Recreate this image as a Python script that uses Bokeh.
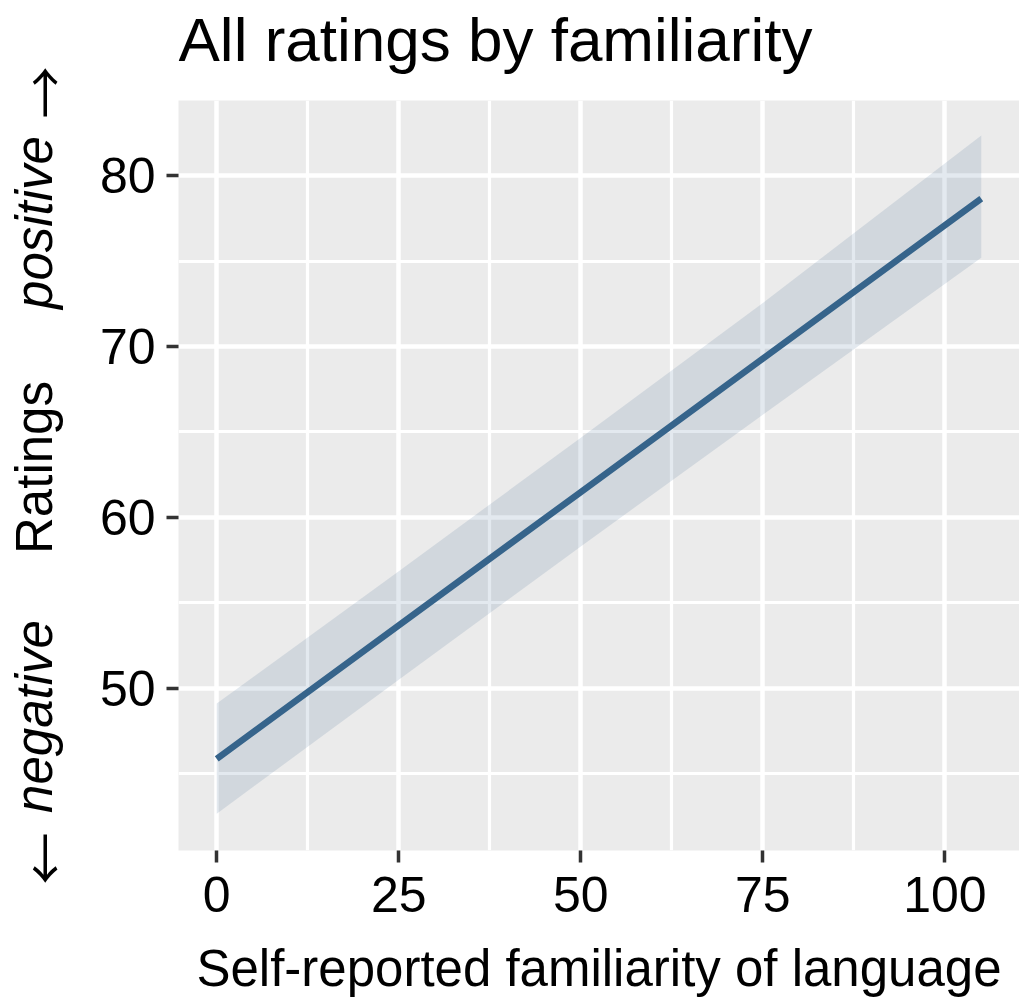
from bokeh.plotting import figure
from bokeh.models import FixedTicker, Range1d
from bokeh.layouts import row, column
from bokeh.core.properties import value
from bokeh.embed import file_html
from bokeh.resources import INLINE
import math

# ---- data ----
familiarity = [0, 25, 50, 75, 105]
rating_fit = [45.87, 53.68, 61.48, 69.29, 78.66]
rating_lower = [42.65, 50.5, 58.3, 66.0, 75.2]
rating_upper = [49.1, 56.85, 64.66, 72.55, 82.35]

x_ticks = [0, 25, 50, 75, 100]
x_minor = [12.5, 37.5, 62.5, 87.5]
y_ticks = [50, 60, 70, 80]
y_minor = [45, 55, 65, 75]

title_text = "All ratings by familiarity"
x_label = "Self-reported familiarity of language"
y_label_parts = ["\u2190", "negative", "Ratings", "positive", "\u2192"]

FONT = "Liberation Sans"
ARROW_FONT = "Noto Sans CJK SC"
LINE_COLOR = "#36648B"

W, H = 1019, 1002
LW = 80          # width of the left strip holding the y-axis title
TH = 100         # height of the top strip holding the title
FL, FB = 178, 850  # frame left / bottom in page px


def strip(w, h):
    f = figure(width=w, height=h, output_backend="svg", toolbar_location=None,
               x_range=Range1d(0, w), y_range=Range1d(0, h), title=None,
               x_axis_location=None, y_axis_location=None, min_border=0)
    f.outline_line_color = None
    f.background_fill_color = "white"
    f.border_fill_color = "white"
    f.grid.visible = False
    return f


# ---- main plot ----
PW, PH = W - LW, H - TH
p = figure(width=PW, height=PH, output_backend="svg", toolbar_location=None,
           title=None, x_range=Range1d(-5.25, 110.25), y_range=Range1d(40.5, 84.4))
p.min_border_left = FL - LW
p.min_border_right = 0
p.min_border_top = 0
p.min_border_bottom = H - FB
p.outline_line_color = None
p.background_fill_color = "#EBEBEB"
p.border_fill_color = "white"

for ax in (p.xaxis[0], p.yaxis[0]):
    ax.axis_line_color = None
    ax.major_tick_line_color = "#333333"
    ax.major_tick_line_width = 3.5
    ax.major_tick_out = 12
    ax.major_tick_in = 0
    ax.minor_tick_line_color = None
    ax.major_label_text_font = FONT
    ax.major_label_text_font_size = "50px"
    ax.major_label_text_color = "black"

p.xaxis.ticker = FixedTicker(ticks=x_ticks, minor_ticks=x_minor)
p.yaxis.ticker = FixedTicker(ticks=y_ticks, minor_ticks=y_minor)
p.xaxis.major_label_standoff = 14
p.yaxis.major_label_standoff = 11

p.xaxis.axis_label = x_label
p.xaxis.axis_label_text_font = FONT
p.xaxis.axis_label_text_font_size = "51px"
p.xaxis.axis_label_text_font_style = "normal"
p.xaxis.axis_label_text_color = "black"
p.xaxis.axis_label_standoff = 25

for g in (p.xgrid[0], p.ygrid[0]):
    g.grid_line_color = "white"
    g.grid_line_width = 4.5
    g.minor_grid_line_color = "white"
    g.minor_grid_line_width = 3.2

p.varea(x=familiarity, y1=rating_lower, y2=rating_upper,
        fill_color=LINE_COLOR, fill_alpha=0.14)
p.line(x=familiarity, y=rating_fit, line_color=LINE_COLOR, line_width=6.5)

# ---- top strip: title (frame is aligned with the main plot's frame) ----
top = strip(PW, TH)
top.text(x=[0], y=[61], text=[title_text],
         text_font=value(FONT), text_font_size="62px", text_color="black",
         text_align="left", text_baseline="alphabetic")

# ---- left strip: y-axis title (mixed italic), rotated ----
left = strip(LW, H)
ang = math.pi / 2
label_pos = [          # (centre y in page px, style, baseline, column x, font, size)
    (858, "normal", "middle", 42, ARROW_FONT, "52px"),
    (716, "italic", "alphabetic", 34, FONT, "51px"),
    (467, "normal", "alphabetic", 34, FONT, "51px"),
    (222, "italic", "alphabetic", 34, FONT, "51px"),
    (92, "normal", "middle", 42, ARROW_FONT, "52px"),
]
for txt, (cy, style, base, cx, fnt, fsz) in zip(y_label_parts, label_pos):
    left.text(x=[cx], y=[H - cy], text=[txt], angle=ang,
              text_font=value(fnt), text_font_size=fsz,
              text_font_style=style, text_color="black",
              text_align="center", text_baseline=base)

layout = row(left, column(top, p))
open("out.html", "w").write(file_html(layout, INLINE))
